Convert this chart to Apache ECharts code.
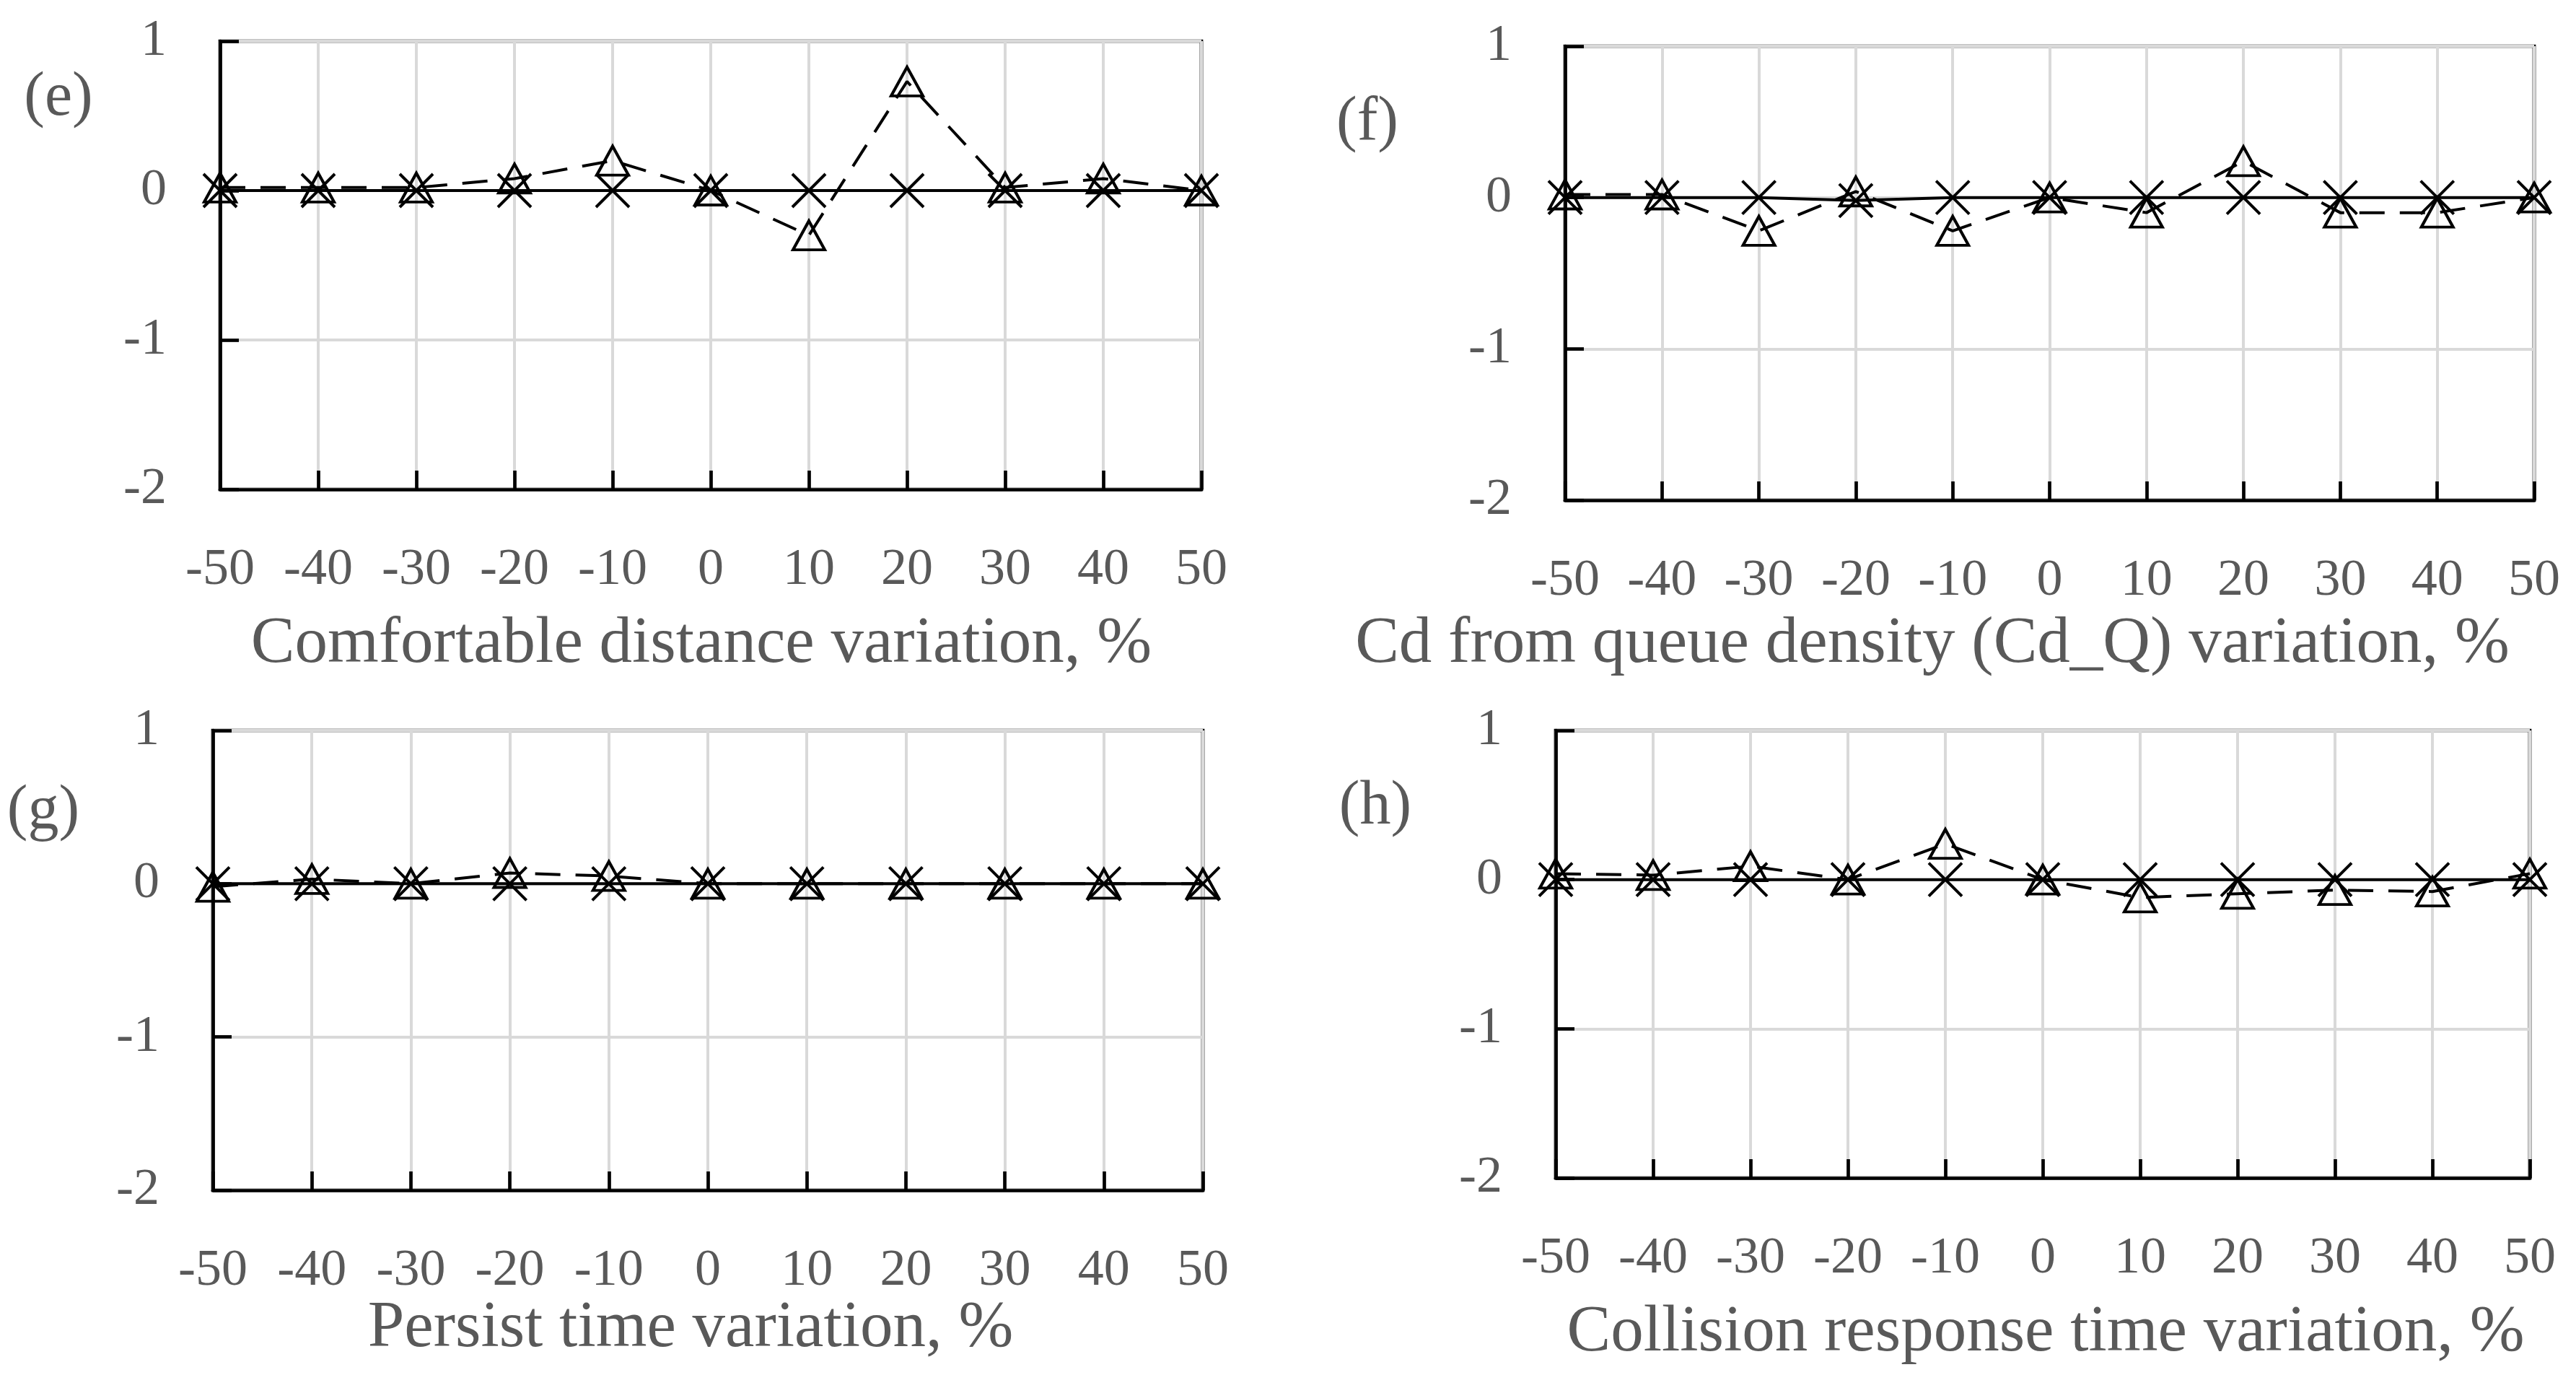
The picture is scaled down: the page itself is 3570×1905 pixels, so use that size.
<!DOCTYPE html>
<html>
<head>
<meta charset="utf-8">
<script src="https://cdn.jsdelivr.net/npm/echarts@6/dist/echarts.min.js"></script>
<style>
html,body{margin:0;padding:0;background:#fff;}
#c{width:3570px;height:1905px;}
</style>
</head>
<body>
<div id="c"></div>
<script>
const categories = ['-50','-40','-30','-20','-10','0','10','20','30','40','50'];
const yTicks = { min: -2, max: 1, interval: 1 };

// (e) Comfortable distance
const eCross = [0,0,0,0,0,0,0,0,0,0,0];
const eTri   = [0.02,0.02,0.02,0.08,0.2,0,-0.3,0.73,0.02,0.08,0];
// (f) Cd from queue density
const fCross = [0,0,0,-0.02,0,0,0,0,0,0,0];
const fTri   = [0.02,0.02,-0.22,0.04,-0.22,0,-0.1,0.24,-0.1,-0.1,0];
// (g) Persist time
const gCross = [0,0,0,0,0,0,0,0,0,0,0];
const gTri   = [-0.02,0.03,0,0.07,0.05,0,0,0,0,0,0];
// (h) Collision response time
const hCross = [0,0,0,0,0,0,0,0,0,0,0];
const hTri   = [0.04,0.03,0.09,0,0.24,0,-0.12,-0.095,-0.07,-0.08,0.04];

const panelLabels = ['(e)','(f)','(g)','(h)'];
const axisTitles = [
  'Comfortable distance variation, %',
  'Cd from queue density (Cd_Q) variation, %',
  'Persist time variation, %',
  'Collision response time variation, %'
];

const FONT = 'Liberation Serif';
const GRAY = '#595959';

const grids = [
  {left:305, top:57, width:1360, height:621},
  {left:2169, top:64, width:1343, height:629},
  {left:295, top:1012, width:1372, height:637},
  {left:2156, top:1012, width:1350, height:620}
];
const labelPos = [[81,136],[1895,170],[60,1124],[1906,1118]];
const titlePos = [[972,893],[2678,893],[957,1841],[2835,1847]];

const crossSets = [eCross,fCross,gCross,hCross];
const triSets = [eTri,fTri,gTri,hTri];

const xPath = 'path://M0,0L10,10M0,10L10,0';

const option = {
  animation: false,
  backgroundColor: '#fff',
  grid: grids.map(g => Object.assign({show:true, borderColor:'#000', borderWidth:4.7, backgroundColor:'transparent'}, g)),
  xAxis: grids.map((g,i) => ({
    gridIndex: i, type: 'category', data: categories, boundaryGap: false,
    axisLine: {show:true, onZero:false, lineStyle:{color:'#000', width:4.7}},
    axisTick: {show:true, inside:true, length:26, interval:0, lineStyle:{color:'#000', width:4.7}},
    axisLabel: {interval:0, margin:76, color:GRAY, fontFamily:FONT, fontSize:72, lineHeight:72},
    splitLine: {show:true, interval:0, lineStyle:{color:'#d9d9d9', width:4}}
  })),
  yAxis: grids.map((g,i) => ({
    gridIndex: i, type: 'value', min: yTicks.min, max: yTicks.max, interval: yTicks.interval,
    axisLine: {show:true, lineStyle:{color:'#000', width:4.7}},
    axisTick: {show:true, inside:true, length:26, lineStyle:{color:'#000', width:4.7}},
    axisLabel: {margin:74, color:GRAY, fontFamily:FONT, fontSize:72},
    splitLine: {show:true, lineStyle:{color:'#d9d9d9', width:4}}
  })),
  series: [],
  graphic: []
};

for (let i = 0; i < 4; i++) {
  option.series.push({
    type:'line', xAxisIndex:i, yAxisIndex:i, data: crossSets[i],
    symbol: xPath, symbolSize: [46,46], showAllSymbol: true,
    lineStyle: {color:'#000', width:4, type:'solid'},
    itemStyle: {color:'rgba(0,0,0,0)', borderColor:'#000', borderWidth:4},
    z: 3
  });
  option.series.push({
    type:'line', xAxisIndex:i, yAxisIndex:i, data: triSets[i],
    symbol: 'triangle', symbolSize: [44,40], showAllSymbol: true,
    lineStyle: {color:'#000', width:4, type:[35,21]},
    itemStyle: {color:'rgba(0,0,0,0)', borderColor:'#000', borderWidth:4},
    z: 4
  });
  option.graphic.push({
    type:'text', x: labelPos[i][0], y: labelPos[i][1],
    style: {text: panelLabels[i], fill: GRAY, font: '86px "' + FONT + '"', textAlign:'center', textVerticalAlign:'middle'}
  });
  option.graphic.push({
    type:'text', x: titlePos[i][0], y: titlePos[i][1],
    style: {text: axisTitles[i], fill: GRAY, font: '91px "' + FONT + '"', textAlign:'center', textVerticalAlign:'middle'}
  });
}

const chart = echarts.init(document.getElementById('c'));
chart.setOption(option);
</script>
</body>
</html>
